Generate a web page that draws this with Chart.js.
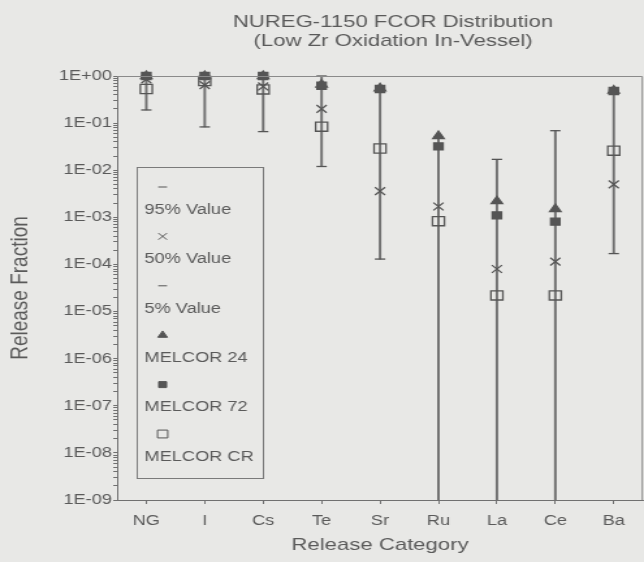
<!DOCTYPE html>
<html>
<head>
<meta charset="utf-8">
<script src="https://cdn.jsdelivr.net/npm/chart.js@4.4.1/dist/chart.umd.min.js"></script>
<style>
  html, body { margin: 0; padding: 0; background: #e8e8e6; overflow: hidden; }
  /* the scanned original is stretched sideways, so the chart is too */
  #wrap { width: 502px; height: 562px; transform: scaleX(1.301); transform-origin: 0 0; }
</style>
</head>
<body>
<div id="wrap"><canvas id="myChart" width="502" height="562"></canvas></div>
<script>
const categories = ["NG", "I", "Cs", "Te", "Sr", "Ru", "La", "Ce", "Ba"];

// NUREG-1150 percentiles (values below 1E-09 run off the bottom of the axis)
const value95 = [1, 1, 1, 1, 0.55, 0.05, 0.017, 0.069, 0.5];
const value50 = [0.85, 0.64, 0.6, 0.2, 0.0036, 0.0017, 0.00008, 0.000115, 0.005];
const value05 = [0.19, 0.083, 0.066, 0.012, 0.00013, 1e-10, 1e-10, 1e-10, 0.00017];

// MELCOR results
const melcor24 = [1, 1, 1, 0.66, 0.55, 0.053, 0.0022, 0.0015, 0.49];
const melcor72 = [1, 1, 1, 0.62, 0.53, 0.032, 0.0011, 0.00081, 0.48];
const melcorCR = [0.53, 0.78, 0.52, 0.084, 0.029, 0.00083, 0.000022, 0.000022, 0.026];

const decades = [1, 1e-1, 1e-2, 1e-3, 1e-4, 1e-5, 1e-6, 1e-7, 1e-8, 1e-9];
const yTickLabels = ["1E+00", "1E-01", "1E-02", "1E-03", "1E-04", "1E-05", "1E-06", "1E-07", "1E-08", "1E-09"];

const textColor = "#5a5a5a";
const lineColor = "#707070";
const markColor = "#555555";

const yTickValues = [];
decades.forEach((d, i) => {
    yTickValues.push(d);
    if (i < decades.length - 1) {
        for (let m = 9; m >= 2; m--) yTickValues.push(d * m / 10);
    }
});

const yLabel = (value) => {
    const i = decades.findIndex((d) => Math.abs(Math.log10(d) - Math.log10(value)) < 1e-6);
    return i >= 0 ? yTickLabels[i] : "";
};

const ranges = categories.map((c, i) => [value05[i], value95[i]]);

const markers = (label, data, style, radius, fill, order) => ({
    type: "line",
    label: label,
    data: data,
    showLine: false,
    pointStyle: style,
    pointRadius: radius,
    pointBackgroundColor: fill,
    pointBorderColor: markColor,
    pointBorderWidth: 1.3,
    clip: false,
    order: order
});

const frameAndLegend = {
    id: "frameAndLegend",
    afterDraw(chart) {
        const { ctx, chartArea } = chart;
        ctx.save();

        // top and right frame
        ctx.strokeStyle = "#8a8a8a";
        ctx.lineWidth = 1;
        ctx.beginPath();
        ctx.moveTo(chartArea.left, chartArea.top + 0.5);
        ctx.lineTo(chartArea.right - 0.5, chartArea.top + 0.5);
        ctx.lineTo(chartArea.right - 0.5, chartArea.bottom);
        ctx.stroke();

        // title
        ctx.fillStyle = textColor;
        ctx.font = "17px 'Liberation Sans', Arial, sans-serif";
        ctx.textAlign = "center";
        ctx.textBaseline = "middle";
        const cx = (chartArea.left + chartArea.right) / 2 + 10;
        ctx.fillText("NUREG-1150 FCOR Distribution", cx, 22);
        ctx.fillText("(Low Zr Oxidation In-Vessel)", cx, 41);

        // legend box, marker above each label
        const boxX = chartArea.left + 15;
        const boxY = chartArea.top + 91;
        ctx.strokeStyle = "#7a7a7a";
        ctx.strokeRect(boxX + 0.5, boxY + 0.5, 97, 311);

        ctx.font = "14px 'Liberation Sans', Arial, sans-serif";
        ctx.textAlign = "left";
        chart.data.datasets.forEach((ds, i) => {
            if (ds.type !== "line") return;
            const row = i - 1;
            const y = boxY + 20 + row * 49.4;
            ctx.fillStyle = ds.pointBackgroundColor;
            ctx.strokeStyle = ds.pointBorderColor;
            Chart.helpers.drawPoint(ctx, {
                pointStyle: ds.pointStyle,
                radius: ds.pointRadius * 0.85,
                rotation: 0,
                borderWidth: 1.2
            }, boxX + 20, y);
            ctx.fillStyle = textColor;
            ctx.fillText(ds.label, boxX + 6, y + 23);
        });
        ctx.restore();
    }
};

const config = {
    type: "bar",
    data: {
        labels: categories,
        datasets: [
            {
                label: "range",
                data: ranges,
                backgroundColor: lineColor,
                barThickness: 1.3,
                order: 10
            },
            markers("95% Value", value95, "line", 4, "transparent", 5),
            markers("50% Value", value50, "crossRot", 5.5, "transparent", 3),
            markers("5% Value", value05, "line", 4, "transparent", 5),
            markers("MELCOR 24", melcor24, "triangle", 5, markColor, 2),
            markers("MELCOR 72", melcor72, "rect", 5, markColor, 1),
            markers("MELCOR CR", melcorCR, "rect", 6.5, "transparent", 4)
        ]
    },
    options: {
        responsive: false,
        animation: false,
        events: [],
        layout: { padding: { top: 76, right: 1.5, left: 0, bottom: 0 } },
        plugins: {
            legend: { display: false },
            tooltip: { enabled: false }
        },
        scales: {
            x: {
                grid: { drawOnChartArea: false, offset: false, tickLength: 4, color: lineColor },
                border: { color: lineColor },
                ticks: { color: textColor, padding: 9, font: { size: 14, family: "'Liberation Sans', Arial" } },
                title: {
                    display: true,
                    text: "Release Category",
                    color: textColor,
                    padding: { top: 0, bottom: 6 },
                    font: { size: 17, family: "'Liberation Sans', Arial" }
                },
                afterFit(scale) { scale.height = 62; }
            },
            y: {
                type: "logarithmic",
                min: 1e-9,
                max: 1,
                afterBuildTicks(scale) {
                    scale.ticks = yTickValues.map((v) => ({ value: v }));
                },
                grid: { drawOnChartArea: false, tickLength: 3, color: lineColor },
                border: { color: lineColor },
                ticks: {
                    autoSkip: false,
                    color: textColor,
                    padding: 1,
                    font: { size: 14, family: "'Liberation Sans', Arial" },
                    callback: (value) => yLabel(value)
                },
                title: {
                    display: true,
                    text: "Release Fraction",
                    color: textColor,
                    padding: { top: 4, bottom: 0 },
                    font: { size: 19, family: "'Liberation Sans', Arial" }
                },
                afterFit(scale) { scale.width = 90; }
            }
        }
    },
    plugins: [frameAndLegend]
};

new Chart(document.getElementById("myChart"), config);
</script>
</body>
</html>
